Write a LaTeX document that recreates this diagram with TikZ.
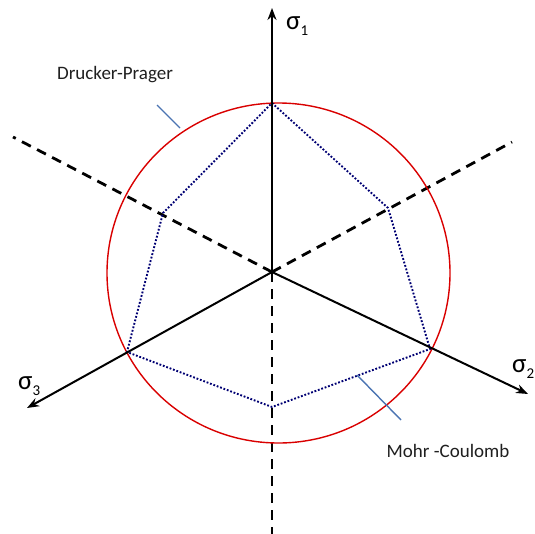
\documentclass[tikz,border=0pt]{standalone}
\usepackage{fontspec}
\setmainfont{Carlito}
\usetikzlibrary{arrows.meta}
\begin{document}
\begin{tikzpicture}[x=1pt,y=-1pt,
  axis/.style={line width=2pt,-{Stealth[length=12pt,width=9pt]}},
  dashaxis/.style={line width=2.8pt,dash pattern=on 10pt off 7pt},
  dp/.style={draw=red!85!black,line width=1.4pt},
  mc/.style={draw=blue!45!black,line width=1.9pt,dash pattern=on 1.8pt off 1.8pt},
  leader/.style={draw=cyan!45!blue!70!gray,line width=1.4pt},
  lbl/.style={font=\fontsize{19}{19}\selectfont,text=black!88,inner sep=0pt},
  sig/.style={font=\fontsize{27}{27}\selectfont,inner sep=0pt,anchor=base west}]
\useasboundingbox (0,0) rectangle (535,533);
\coordinate (O) at (272,272);
\coordinate (s1) at (272,8);
\coordinate (s2) at (528,394);
\coordinate (s3) at (27,408);
\coordinate (d1) at (13,137);
\coordinate (d2) at (512,142);
\coordinate (d3) at (272,540);
% dashed axes
\draw[dashaxis] (O) -- (d1);
\draw[dashaxis] (O) -- (d2);
\draw[dashaxis] (O) -- (d3);
% Drucker-Prager circle
\draw[dp] (278.5,273) ellipse [x radius=171.5, y radius=170];
% Mohr-Coulomb hexagon
\coordinate (h1) at (272,103);
\coordinate (h2) at (388,208);
\coordinate (h3) at (430,349);
\coordinate (h4) at (272,407);
\coordinate (h5) at (127,352);
\coordinate (h6) at (163,213);
\draw[mc] (h1) -- (h2) -- (h3) -- (h4) -- (h5) -- (h6) -- cycle;
% solid axes
\draw[axis] (O) -- (s1);
\draw[axis] (O) -- (s2);
\draw[axis] (O) -- (s3);
% axis labels
\node[sig] (l1) at (286,29) {σ\raisebox{-6pt}{\fontsize{15}{15}\selectfont 1}};
\node[sig] (l2) at (512,372) {σ\raisebox{-6pt}{\fontsize{15}{15}\selectfont 2}};
\node[sig] (l3) at (18,389) {σ\raisebox{-6pt}{\fontsize{15}{15}\selectfont 3}};
% labels and leaders
\node[lbl] (dpl) at (115,75) {Drucker-Prager};
\node[lbl] (mcl) at (448,451) {Mohr -Coulomb};
\coordinate (dpa) at (157,105);
\coordinate (dpb) at (180,128);
\coordinate (mca) at (357,375);
\coordinate (mcb) at (401,420);
\draw[leader] (dpa) -- (dpb);
\draw[leader] (mca) -- (mcb);
\end{tikzpicture}
\end{document}
